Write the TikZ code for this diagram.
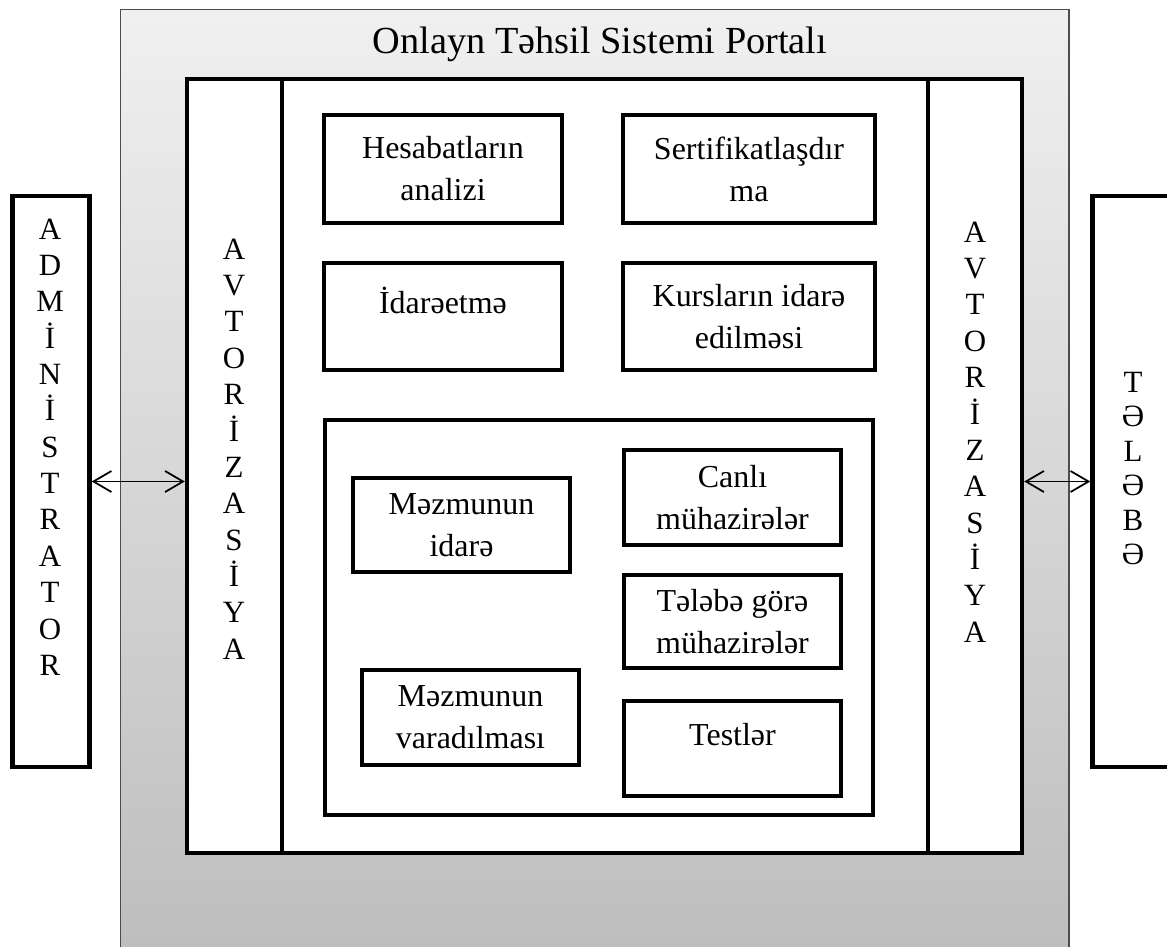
\documentclass[tikz,border=0pt]{standalone}
\usepackage{fontspec}
\setmainfont{Liberation Serif}
\usetikzlibrary{arrows.meta}

\definecolor{portaltop}{HTML}{F0F0F0}
\definecolor{portalbottom}{HTML}{BDBDBD}

\newdimen\px
\px=0.02cm

\tikzset{
  panel/.style={draw, line width=2.5pt, fill=white, inner sep=0pt},
  modul/.style={panel, align=center, font=\fontsize{18.2}{23.9}\selectfont},
  letters/.style={align=center, inner sep=0pt, font=\fontsize{17.6}{20.7}\selectfont},
  link/.style={{Straight Barb[length=0.36cm,width=0.42cm]}-{Straight Barb[length=0.36cm,width=0.42cm]}, line width=1pt}
}

\begin{document}
\begin{tikzpicture}[x=0.02cm, y=-0.02cm, line join=miter]
  \clip (0,0) rectangle (1167,947);
  \fill[white] (0,0) rectangle (1167,947);

  % --- portal frame ---
  \shade[top color=portaltop, bottom color=portalbottom, draw=black!70, line width=0.7pt]
    (120.5,9.5) rectangle (1069,965);
  \node[font=\fontsize{21.8}{26}\selectfont] (title) at (600,44) {Onlayn Təhsil Sistemi Portalı};

  % --- outside users ---
  \node[panel, minimum width=77\px, minimum height=571\px] (admin) at (51,481.5) {};
  \node[letters] (admintext) at (50,447)
    {A\\D\\M\\İ\\N\\İ\\S\\T\\R\\A\\T\\O\\R};

  \node[panel, minimum width=97\px, minimum height=571\px] (telebe) at (1141,481.5) {};
  \node[letters, font=\fontsize{17.6}{19.6}\selectfont] (telebetext) at (1133,468.5)
    {T\\Ə\\L\\Ə\\B\\Ə};

  % --- authorization columns and core ---
  \node[panel, minimum width=95\px, minimum height=773.5\px] (avtleft) at (234.5,466) {};
  \node[panel, minimum width=646\px, minimum height=773.5\px] (core) at (605,466) {};
  \node[panel, minimum width=94\px, minimum height=773.5\px] (avtright) at (975,466) {};

  \node[letters] (avtlefttext) at (234,449) {A\\V\\T\\O\\R\\İ\\Z\\A\\S\\İ\\Y\\A};
  \node[letters] (avtrighttext) at (975,432) {A\\V\\T\\O\\R\\İ\\Z\\A\\S\\İ\\Y\\A};

  % --- modules ---
  \node[modul, minimum width=238\px, minimum height=108\px] (hesab) at (443,169)
    {Hesabatların\\analizi};
  \node[modul, minimum width=252\px, minimum height=108\px] (sertif) at (749,169)
    {Sertifikatlaşdır\\ma};
  \node[modul, minimum width=238\px, minimum height=107\px] (idare) at (443,316.5)
    {İdarəetmə\\[-6pt]\mbox{}};
  \node[modul, minimum width=252\px, minimum height=107\px] (kurs) at (749,316.5)
    {Kursların idarə\\edilməsi};

  % --- content block ---
  \node[panel, minimum width=548\px, minimum height=395\px] (content) at (599,617.5) {};

  \node[modul, minimum width=217\px, minimum height=94\px] (mezidare) at (461.5,525)
    {Məzmunun\\idarə};
  \node[modul, minimum width=217\px, minimum height=95\px] (mezyarat) at (470.5,717.5)
    {Məzmunun\\varadılması};
  \node[modul, minimum width=217\px, minimum height=95\px] (canli) at (732.5,497.5)
    {Canlı\\mühazirələr};
  \node[modul, minimum width=217\px, minimum height=93\px] (sorgu) at (732.5,621.5)
    {Tələbə görə\\mühazirələr};
  \node[modul, minimum width=217\px, minimum height=95\px] (testler) at (732.5,748.5)
    {Testlər\\[-8pt]\mbox{}};

  % --- connectors ---
  \draw[link] (admin.east) -- (admin.east -| avtleft.west);
  \draw[link] (avtright.east |- telebe.west) -- (telebe.west);
\end{tikzpicture}
\end{document}
